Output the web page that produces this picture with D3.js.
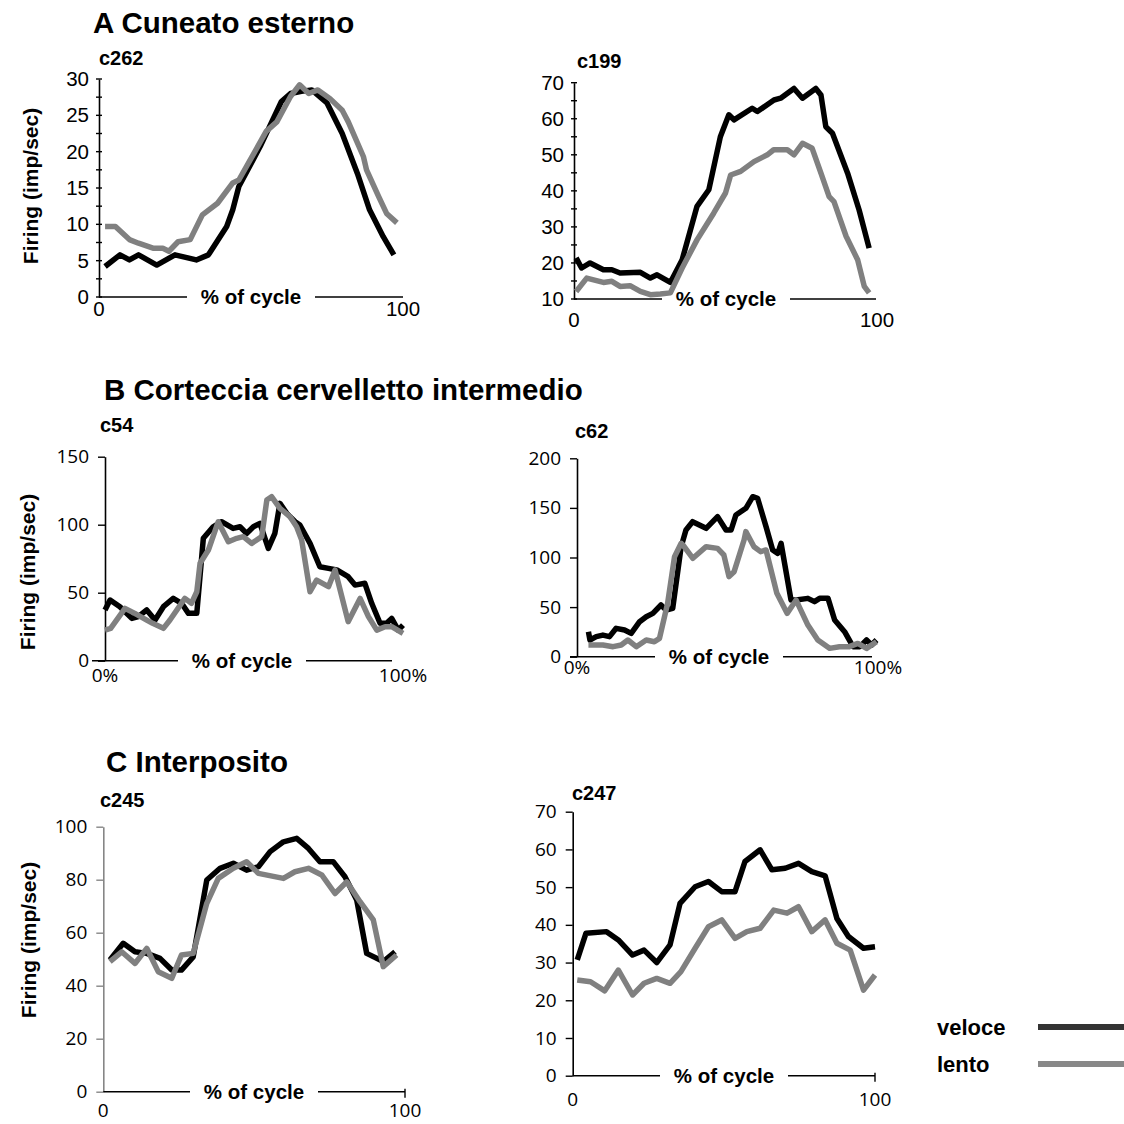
<!DOCTYPE html>
<html>
<head>
<meta charset="utf-8">
<script src="https://cdn.jsdelivr.net/npm/d3@7"></script>
<style>
body { margin: 0; background: #fff; }
svg { display: block; }
</style>
</head>
<body>
<svg id="chart-svg" width="1124" height="1124"></svg>
<script>
// values: [% of cycle, imp/sec]
const c262Veloce = [[2,4.2],[6.9,5.8],[10,5.1],[13,5.8],[19,4.4],[25,5.8],[32,5.1],[36,5.8],[42,9.7],[44,12],[46,15.2],[53,20.7],[60,26.9],[63,28],[66.6,28.3],[70,28.5],[75,26.7],[80,22.5],[85,17],[89,12],[93.5,8.3],[97,5.8]];
const c262Lento = [[2,9.7],[5.4,9.7],[10,7.9],[13,7.4],[18,6.7],[21,6.7],[23,6.3],[26,7.6],[30,7.9],[34,11.3],[39,12.9],[44,15.7],[46,16.1],[51,19.8],[55,22.8],[58.5,24.1],[63,27.6],[66,29.2],[69,28],[72,28.5],[76,27.3],[80,25.7],[82,24.1],[87,19.3],[88,17.5],[92,13.8],[94.6,11.5],[98,10.2]];

const c199Veloce = [[0.7,21.4],[2.5,18.6],[5.3,20],[9.7,18.1],[12.5,18.1],[15.2,17.2],[21.9,17.4],[25.2,15.8],[27.4,16.7],[31.8,14.6],[35.7,20.9],[40.6,35.7],[44.5,40.3],[48.3,55],[51.1,61.1],[52.8,59.7],[58.8,62.9],[60.5,62],[66,65.2],[68.2,65.7],[72.6,68.4],[75.4,65.7],[79.8,68.4],[81.5,66.6],[83.1,57.8],[85.3,56],[90.3,44.9],[94.1,34.7],[97.4,24.1]];
const c199Lento = [[0.7,12.1],[4.2,15.8],[9.7,14.6],[12.5,14.9],[15.2,13.5],[18.5,13.7],[21.9,12.1],[25.2,11.2],[28.5,11.4],[31.8,11.7],[35.7,18.6],[40.6,26.4],[46.1,33.8],[50,39.4],[51.7,44.4],[55,45.4],[59.4,48.1],[63.8,50],[65.9,51.4],[70.4,51.4],[72.6,50],[75.4,53.2],[78.6,51.8],[81.5,44.9],[84.2,38.4],[85.8,37],[89.8,27.4],[93.6,20.9],[95.8,13.5],[97.4,11.7]];

const c54Veloce = [[0,37.3],[1.7,44.6],[5,39.7],[9,31.1],[11.2,32.4],[14,37.3],[16.8,29.9],[19.6,39.7],[22.9,45.8],[25.7,42.2],[28,34.8],[30.8,34.8],[33,90],[36.3,98.5],[39.1,102.2],[43,97.3],[45.3,98.5],[47.5,93.6],[49.8,98.5],[52,101],[54.8,82.6],[57,93.6],[58.7,115.7],[61,108.3],[63.8,102.2],[65.4,99.8],[68.8,86.3],[72.1,69.1],[75,67.9],[77.8,66.7],[81.6,61.8],[83.9,55.6],[87.2,56.9],[89.5,42.2],[92.3,27.5],[94.5,27.5],[96.2,31.1],[98.4,22.5],[100,26.2]];
const c54Lento = [[0,22.5],[1.9,23.8],[6.7,38.5],[10,34.8],[14,29.9],[16,27.5],[19.6,23.8],[21.8,29.9],[26.8,45.8],[29,42.2],[30.8,50.7],[31.9,71.6],[34.7,81.4],[38,102.2],[41.4,87.5],[44.2,90],[46.4,91.2],[49.2,86.3],[52.6,91.2],[54.3,118.1],[55.9,120.6],[58.7,112],[62.1,105.9],[64.3,98.5],[66,88.7],[68.8,50.7],[71,59.3],[75,54.4],[77.2,66.7],[81.6,28.7],[85.6,45.8],[88.4,32.4],[91.2,22.5],[94,25],[96.2,25],[100,20.1]];

const c62Veloce = [[3.8,25.2],[4.3,16.8],[6.4,20.2],[8.6,21.8],[10.8,20.2],[13,28.6],[15.8,26.9],[18,23.5],[20.8,35.3],[23,40.3],[25.2,43.7],[27.9,52.1],[29.6,47.1],[31.8,48.7],[34.6,110.9],[36.2,127.7],[38.4,136.1],[42.9,129.4],[46.7,141.2],[49.5,127.7],[51.2,127.7],[52.8,142.9],[56.1,149.6],[58.4,161.3],[60,159.7],[62.8,131.1],[65,107.6],[66.7,104.2],[67.8,114.3],[71.1,57.1],[72.8,57.1],[76.7,58.8],[78.9,55.5],[80.6,58.8],[83.4,58.8],[85.6,37],[88.9,25.2],[91.7,10.1],[94,10.1],[96.2,16.8],[97.9,11.8],[99.5,16.8]];
const c62Lento = [[3.8,11.8],[6.4,11.8],[8.6,11.8],[12,10.1],[14.7,11.8],[16.9,16.8],[19.7,10.1],[23,16.8],[25.7,15.1],[27.4,18.5],[30.1,53.8],[32.4,100.8],[34.6,114.3],[35.2,112.6],[38.5,99.2],[42.9,110.9],[46.7,109.2],[48.8,102.5],[50.5,80.7],[52.2,85.7],[55.5,117.6],[56.1,126.1],[58.8,110.9],[61,105.9],[62.8,107.6],[66.4,63.9],[69.8,43.7],[72.8,57.1],[76.7,31.9],[80,16.8],[83.9,8.4],[87.2,10.1],[90.5,10.1],[93.3,13.4],[96.2,8.4],[99.5,15.1]];

const c245Veloce = [[2.2,49.7],[6.6,56],[10.5,52.8],[14.4,52.2],[18.8,50.3],[22.7,45.9],[25.9,45.9],[29.8,50.9],[34.3,79.9],[38.7,84.3],[43.1,86.2],[47.5,83.6],[51.4,84.9],[55.3,90.6],[59.7,94.3],[64.1,95.6],[68,91.8],[71.8,86.8],[76.2,86.8],[80.1,81.1],[84,72.3],[87.3,52.2],[92.8,49.1],[96.7,52.8]];
const c245Lento = [[2.2,49.1],[6.1,52.8],[10.5,48.4],[14.4,54.1],[18.2,45.3],[22.7,42.8],[25.9,51.6],[29.8,52.2],[34.3,71.1],[38.1,80.5],[43.1,84.3],[47.5,86.8],[51.4,82.4],[59.7,80.5],[63.5,83],[68,84.3],[72.4,81.8],[76.8,74.8],[80.7,79.2],[85.1,71.7],[89.5,64.8],[92.8,47.2],[97.2,51.6]];

const c247Veloce = [[1.5,30.7],[4.4,37.8],[11.2,38.2],[15.1,36],[19.8,32],[23.6,33.3],[27.8,30],[32.2,34.7],[35.5,45.7],[40.5,50.1],[44.9,51.5],[49.3,48.8],[53.7,48.8],[57,56.8],[62,59.9],[65.9,54.6],[70.3,55],[74.7,56.3],[79.1,54.1],[83.5,53],[87.4,41.7],[91.2,36.9],[96.2,33.8],[100,34.2]];
const c247Lento = [[1.5,25.4],[5.9,24.9],[10.6,22.5],[15.1,28],[19.8,21.4],[23.6,24.5],[27.8,25.8],[32.2,24.5],[35.8,27.6],[40.5,33.8],[44.9,39.5],[49.3,41.3],[53.7,36.4],[57.6,38.2],[62,39.1],[66.5,43.9],[70.9,43.1],[74.7,44.8],[79.1,38.2],[83.5,41.3],[87.4,35.1],[91.8,33.3],[96.2,22.7],[100,26.7]];

const sectionTitles = ['A Cuneato esterno', 'B Corteccia cervelletto intermedio', 'C Interposito'];
const legendLabels = ['veloce', 'lento'];
const yTitle = 'Firing (imp/sec)';
const xTitle = '% of cycle';

const ARIAL = '"Liberation Sans", Arial, sans-serif';
const CALIBRI = '"Open Sans", Calibri, sans-serif';
const BLACK = '#000';
const GRAY = '#808080';

let svg = d3.select('#chart-svg');

// section titles
const titlePos = [[93, 33], [104, 400], [106, 772]];
sectionTitles.forEach((t, i) => {
    svg.append('text')
        .attr('x', titlePos[i][0]).attr('y', titlePos[i][1])
        .attr('font-family', ARIAL).attr('font-weight', 'bold').attr('font-size', 29.5)
        .text(t);
});

function drawPanel(p) {

    let xScale = d3.scaleLinear().domain([0, 100]).range(p.xRange);
    let yScale = d3.scaleLinear().domain(p.yDomain).range(p.yRange);
    let g = svg.append('g');

    // cell name
    g.append('text').attr('x', p.nameAt[0]).attr('y', p.nameAt[1])
        .attr('font-family', ARIAL).attr('font-weight', 'bold').attr('font-size', 20)
        .text(p.name);

    let ax = p.axisX;
    let y0 = yScale(p.yDomain[0]);

    // y axis
    let yAxis = d3.axisLeft(yScale).tickValues(p.yTicks).tickSize(p.tickCross ? 0 : 7)
        .tickSizeOuter(0).tickPadding(p.tickCross ? 10 : 9);
    let yg = g.append('g').attr('transform', `translate(${ax},0)`).call(yAxis);
    yg.select('.domain').attr('stroke', p.yAxisColor || BLACK).attr('stroke-width', 1.6);
    yg.selectAll('.tick line').attr('stroke', p.yAxisColor || BLACK).attr('stroke-width', 1.4);
    yg.selectAll('.tick text').attr('font-family', p.font).attr('font-size', p.fontSize).attr('fill', '#000');

    if (p.tickCross) {
        g.selectAll('.minor').data(p.yMinor).enter().append('line')
            .attr('x1', ax - 3).attr('x2', ax + 3)
            .attr('y1', d => yScale(d)).attr('y2', d => yScale(d))
            .attr('stroke', BLACK).attr('stroke-width', 1.4);
    }

    // x axis line, broken around the "% of cycle" label
    let gapL = p.cycleX - 64, gapR = p.cycleX + 64;
    [[p.xLine[0], gapL], [gapR, p.xLine[1]]].forEach(([a, b]) => {
        g.append('line')
            .attr('x1', a).attr('x2', b)
            .attr('y1', y0).attr('y2', y0)
            .attr('stroke', BLACK).attr('stroke-width', 1.6);
    });
    if (p.endTick) {
        g.append('line')
            .attr('x1', p.xLine[1]).attr('x2', p.xLine[1])
            .attr('y1', y0 - 3).attr('y2', y0 + 6)
            .attr('stroke', BLACK).attr('stroke-width', 1.4);
    }

    g.append('text').attr('x', p.cycleX).attr('y', y0).attr('dy', '0.35em')
        .attr('text-anchor', 'middle')
        .attr('font-family', ARIAL).attr('font-weight', 'bold').attr('font-size', 20.5)
        .text(xTitle);

    // x end labels
    g.selectAll('.xlab').data([0, 100]).enter().append('text')
        .attr('x', d => xScale(d)).attr('y', p.xLabelY).attr('dy', '0.35em')
        .attr('text-anchor', 'middle')
        .attr('font-family', p.font).attr('font-size', p.fontSize)
        .text(d => p.pct ? d + '%' : d);

    // series
    let lineGenerator = d3.line().x(d => xScale(d[0])).y(d => yScale(d[1]));
    [[p.veloce, BLACK], [p.lento, GRAY]].forEach(([data, color]) => {
        g.append('path')
            .attr('d', lineGenerator(data))
            .attr('fill', 'none').attr('stroke', color)
            .attr('stroke-width', 5.5).attr('stroke-linejoin', 'round');
    });

    if (p.yLabelAt) {
        g.append('text')
            .attr('transform', `translate(${p.yLabelAt[0]},${p.yLabelAt[1]}) rotate(-90)`)
            .attr('text-anchor', 'middle').attr('dy', '0.35em')
            .attr('font-family', ARIAL).attr('font-weight', 'bold').attr('font-size', 21)
            .text(yTitle);
    }
}

drawPanel({
    name: 'c262', nameAt: [99, 65],
    xRange: [99, 403], axisX: 99, xLine: [99, 403],
    yDomain: [0, 30], yRange: [297, 79],
    yTicks: d3.range(0, 31, 5), yMinor: d3.range(0, 30.1, 2.5), tickCross: true,
    font: ARIAL, fontSize: 20.5, xLabelY: 309, pct: false,
    cycleX: 251, yLabelAt: [31, 186],
    veloce: c262Veloce, lento: c262Lento
});

drawPanel({
    name: 'c199', nameAt: [577, 68],
    xRange: [574, 877], axisX: 574, xLine: [574, 876],
    yDomain: [10, 70], yRange: [299, 82.7],
    yTicks: d3.range(10, 71, 10), yMinor: d3.range(10, 70.1, 5), tickCross: true,
    font: ARIAL, fontSize: 20.5, xLabelY: 320, pct: false,
    cycleX: 726,
    veloce: c199Veloce, lento: c199Lento
});

drawPanel({
    name: 'c54', nameAt: [100, 432],
    xRange: [105, 403], axisX: 105, xLine: [92, 392],
    yDomain: [0, 150], yRange: [660.7, 456.7],
    yTicks: [0, 50, 100, 150], tickCross: false,
    font: CALIBRI, fontSize: 19, xLabelY: 675, pct: true,
    cycleX: 242, yLabelAt: [28, 572],
    veloce: c54Veloce, lento: c54Lento
});

drawPanel({
    name: 'c62', nameAt: [575, 438],
    xRange: [577, 878], axisX: 577, xLine: [570, 872],
    yDomain: [0, 200], yRange: [656.7, 458.3],
    yTicks: [0, 50, 100, 150, 200], tickCross: false,
    font: CALIBRI, fontSize: 19, xLabelY: 667, pct: true,
    cycleX: 719,
    veloce: c62Veloce, lento: c62Lento
});

drawPanel({
    name: 'c245', nameAt: [100, 807],
    xRange: [103.3, 405], axisX: 103.3, xLine: [103.3, 405], endTick: true,
    yDomain: [0, 100], yRange: [1091.7, 826.7], yAxisColor: '#868686',
    yTicks: d3.range(0, 101, 20), tickCross: false,
    font: CALIBRI, fontSize: 19, xLabelY: 1110, pct: false,
    cycleX: 254, yLabelAt: [29, 940],
    veloce: c245Veloce, lento: c245Lento
});

drawPanel({
    name: 'c247', nameAt: [572, 800],
    xRange: [572.7, 875], axisX: 572.7, xLine: [572.7, 875], endTick: true,
    yDomain: [0, 70], yRange: [1075.7, 811.7],
    yTicks: d3.range(0, 71, 10), tickCross: false,
    font: CALIBRI, fontSize: 19, xLabelY: 1099, pct: false,
    cycleX: 724,
    veloce: c247Veloce, lento: c247Lento
});

// legend
const legendColors = ['#333', '#888'];
legendLabels.forEach((t, i) => {
    let y = [1027, 1064][i];
    svg.append('text').attr('x', 937).attr('y', y).attr('dy', '0.35em')
        .attr('font-family', ARIAL).attr('font-weight', 'bold').attr('font-size', 22)
        .text(t);
    svg.append('line').attr('x1', 1038).attr('x2', 1124).attr('y1', y).attr('y2', y)
        .attr('stroke', legendColors[i]).attr('stroke-width', 6);
});
</script>
</body>
</html>
